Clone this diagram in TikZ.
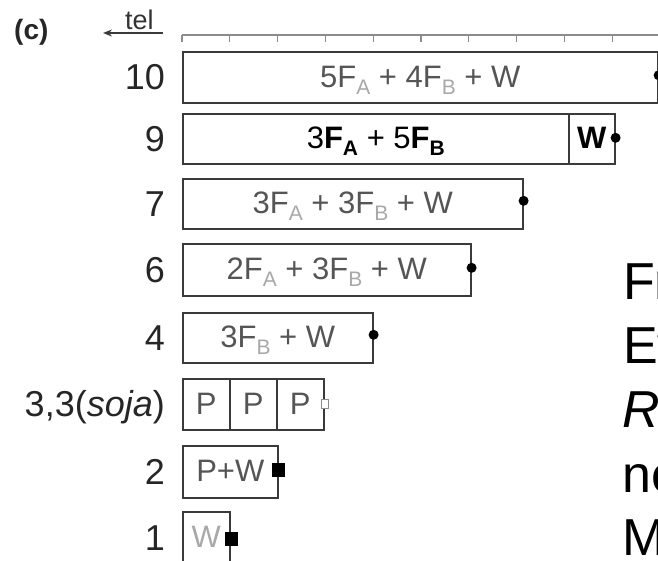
\documentclass[tikz,border=0pt]{standalone}
\usepackage{fontspec}
\setmainfont{Liberation Sans}
\usetikzlibrary{arrows.meta}
\definecolor{boxgray}{HTML}{3A3A3A}
\definecolor{textgray}{HTML}{555555}
\definecolor{subgray}{HTML}{A8A8A8}
\definecolor{rulegray}{HTML}{8C8C8C}
\newcommand\sbs[1]{\raisebox{-7pt}{\fontsize{21}{21}\selectfont\color{subgray}#1}}
\newcommand\sbb[1]{\raisebox{-7pt}{\fontsize{21}{21}\selectfont\bfseries #1}}
\begin{document}
\begin{tikzpicture}[x=1pt,y=-1pt,
  boxst/.style={draw=boxgray, line width=1.6pt, inner sep=0, anchor=north west},
  lbl/.style={anchor=base east, inner sep=0, font=\fontsize{36}{36}\selectfont, text=black!85},
  txt/.style={anchor=base, inner sep=0, font=\fontsize{31}{31}\selectfont, text=textgray},
  big/.style={anchor=base west, inner sep=0, font=\fontsize{52}{52}\selectfont, text=black},
  dotst/.style={fill=black},
  sqst/.style={fill=black, inner sep=0, minimum width=13pt, minimum height=14pt}]
\useasboundingbox (0,0) rectangle (658,560);
\clip (0,0) rectangle (658,560);

% heading
\node[anchor=west, inner sep=0, font=\fontsize{28}{28}\selectfont\bfseries, text=black!85] (c) at (14,32) {(c)};
\node[anchor=base west, inner sep=0, font=\fontsize{27}{27}\selectfont, text=black!80] (tel) at (125,29) {tel};
\coordinate (telR) at (163,33);
\coordinate (telL) at (103,33);
\draw[line width=1.5pt, draw=boxgray, -{Stealth[length=9pt,width=7pt]}] (telR) -- (telL);

% ruler
\coordinate (r0) at (182,35);
\coordinate (r1) at (660,35);
\draw[rulegray, line width=1.3pt] (r0) -- (r1);
\foreach \k in {0,...,10}
  \draw[rulegray, line width=1.3pt] (182+47.8*\k,35) -- (182+47.8*\k,42);

% row labels
\node[lbl] (l10) at (165,89.5) {10};
\node[lbl] (l9)  at (165,151) {9};
\node[lbl] (l7)  at (165,216) {7};
\node[lbl] (l6)  at (165,282) {6};
\node[lbl] (l4)  at (165,350) {4};
\node[lbl] (l33) at (165,416.5) {3,3(\textit{soja})};
\node[lbl] (l2)  at (165,484) {2};
\node[lbl] (l1)  at (165,550) {1};

% boxes
\node[boxst, minimum width=475pt, minimum height=51pt] (b10) at (182,51) {};
\node[boxst, minimum width=386pt, minimum height=50pt] (b9) at (182,113) {};
\node[boxst, minimum width=46pt, minimum height=50pt] (b9w) at (568,113) {};
\node[boxst, minimum width=340pt, minimum height=50pt] (b7) at (182,178) {};
\node[boxst, minimum width=288pt, minimum height=52pt] (b6) at (182,243) {};
\node[boxst, minimum width=190pt, minimum height=50pt] (b4) at (182,312) {};
\node[boxst, minimum width=47pt, minimum height=51pt] (b33a) at (182,378) {};
\node[boxst, minimum width=47pt, minimum height=51pt] (b33b) at (229,378) {};
\node[boxst, minimum width=47pt, minimum height=51pt] (b33c) at (276,378) {};
\node[boxst, minimum width=95pt, minimum height=52pt] (b2) at (182,445) {};
\node[boxst, minimum width=47pt, minimum height=52pt] (b1) at (182,511) {};

% box texts
\node[txt] (t10) at ([yshift=-10pt]b10.center) {5F\sbs{A} + 4F\sbs{B} + W};
\node[txt, text=black] (t9) at ([yshift=-10pt]b9.center) {3\textbf{F}\sbb{A} + 5\textbf{F}\sbb{B}};
\node[txt, text=black, font=\fontsize{31}{31}\selectfont\bfseries] (t9w) at ([yshift=-10pt]b9w.center) {W};
\node[txt] (t7) at ([yshift=-10pt]b7.center) {3F\sbs{A} + 3F\sbs{B} + W};
\node[txt] (t6) at ([yshift=-10pt]b6.center) {2F\sbs{A} + 3F\sbs{B} + W};
\node[txt] (t4) at ([yshift=-10pt]b4.center) {3F\sbs{B} + W};
\node[txt] (t33a) at ([yshift=-10pt]b33a.center) {P};
\node[txt] (t33b) at ([yshift=-10pt]b33b.center) {P};
\node[txt] (t33c) at ([yshift=-10pt]b33c.center) {P};
\node[txt] (t2) at ([yshift=-10pt]b2.center) {P+W};
\node[txt, text=subgray] (t1) at ([yshift=-10pt]b1.center) {W};

% end markers
\fill[dotst] ([yshift=2pt]b10.east) circle (5pt);
\fill[dotst] ([yshift=1pt]b9w.east) circle (5pt);
\fill[dotst] ([yshift=3pt]b7.east) circle (5pt);
\fill[dotst] ([yshift=2pt]b6.east) circle (5pt);
\fill[dotst] ([yshift=3pt]b4.east) circle (5pt);
\node[draw=rulegray, line width=1pt, fill=white, inner sep=0, minimum width=7pt, minimum height=9pt] (sq33) at (b33c.east) {};
\node[sqst] (sq2) at ([yshift=1.5pt]b2.east) {};
\node[sqst] (sq1) at ([yshift=-1pt,xshift=1pt]b1.east) {};

% text cut off at the right edge, as in the reference
\node[big] (w1) at (623,299) {Fr};
\node[big] (w2) at (623,363) {Ev};
\node[big] (w3) at (622,427) {\textit{R}};
\node[big] (w4) at (622,492) {ne};
\node[big] (w5) at (622,555) {M};
\end{tikzpicture}
\end{document}
